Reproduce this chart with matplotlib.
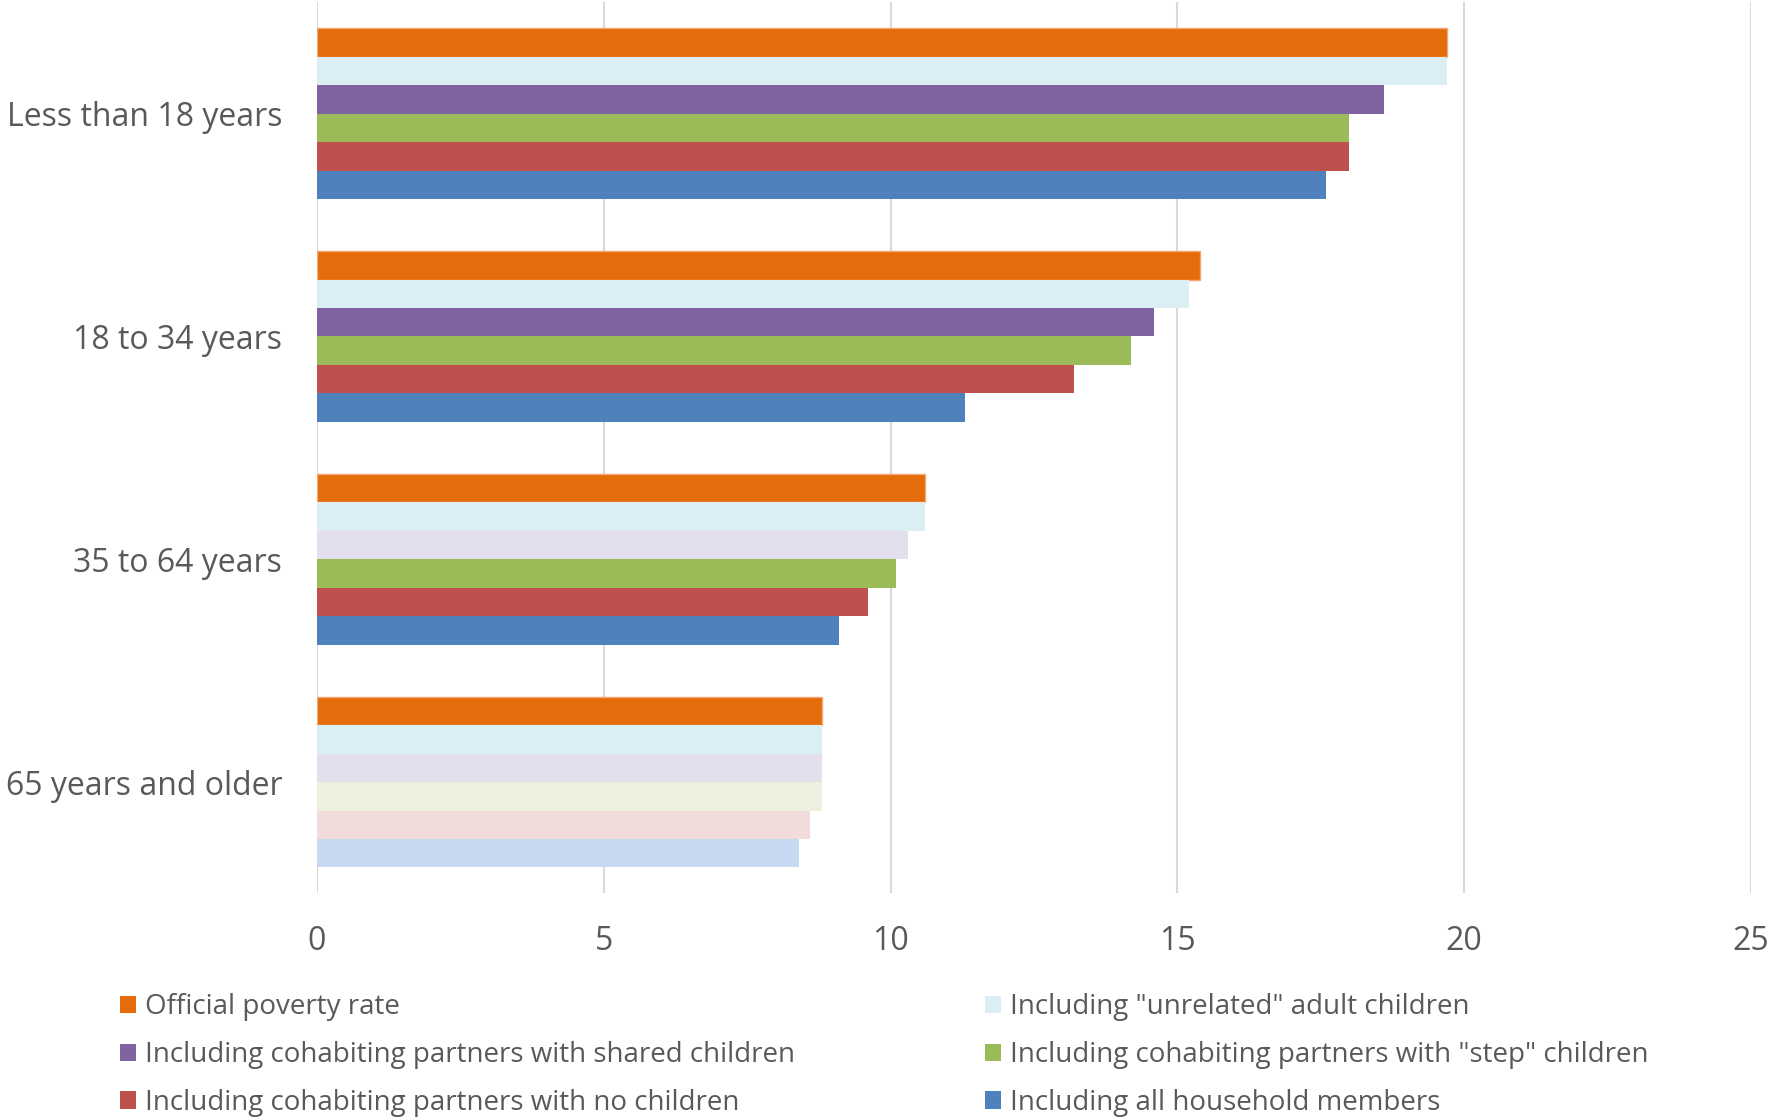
import matplotlib
matplotlib.use("Agg")
import matplotlib.pyplot as plt
import numpy as np
from matplotlib.patches import Patch

categories = ["Less than 18 years", "18 to 34 years", "35 to 64 years", "65 years and older"]
series = ["Official poverty rate",
          "Including \"unrelated\" adult children",
          "Including cohabiting partners with shared children",
          "Including cohabiting partners with \"step\" children",
          "Including cohabiting partners with no children",
          "Including all household members"]
values = [
    [19.7, 15.4, 10.6, 8.8],
    [19.7, 15.2, 10.6, 8.8],
    [18.6, 14.6, 10.3, 8.8],
    [18.0, 14.2, 10.1, 8.8],
    [18.0, 13.2, 9.6, 8.6],
    [17.6, 11.3, 9.1, 8.4],
]
# whether each bar is shown in full colour (True) or faded (False)
significant = [
    [True, True, True, True],
    [True, True, True, True],
    [True, True, False, False],
    [True, True, True, False],
    [True, True, True, False],
    [True, True, True, False],
]
colors = ["#E46C0A", "#DAEEF3", "#8064A2", "#9BBB59", "#C0504D", "#4F81BD"]
faded = ["#F9D9BF", "#DAEEF3", "#E4DFEC", "#EBF1DE", "#F2DCDB", "#C6D9F0"]
xticks = [0, 5, 10, 15, 20, 25]

plt.rcParams['font.family'] = ['Open Sans', 'DejaVu Sans']
fig = plt.figure(figsize=(17.71, 11.17), dpi=100)
ax = fig.add_axes([0.179, 0.2001, 0.8096, 0.7979])

n = len(series)
bh = 0.1277
y = np.arange(len(categories))
for i in range(n):
    offs = (i - (n - 1) / 2) * bh
    cols = [colors[i] if significant[i][j] else faded[i] for j in range(len(categories))]
    if i == 0:
        ax.barh(y + offs, values[i], height=bh, color=cols, edgecolor='#F4A774',
                linewidth=1.0, zorder=3)
    else:
        ax.barh(y + offs, values[i], height=bh, color=cols, edgecolor='none', zorder=3)

ax.set_ylim(len(categories) - 0.5, -0.5)
ax.set_xlim(0, 25)
ax.set_xticks(xticks)
ax.set_xticklabels([str(t) for t in xticks])
ax.set_yticks(y)
ax.set_yticklabels(categories)
ax.tick_params(axis='both', length=0, labelsize=23, colors='#595959')
ax.tick_params(axis='x', pad=23)
ax.tick_params(axis='y', pad=25)
ax.grid(axis='x', color='#D9D9D9', linewidth=1.5, zorder=0)
for s in ax.spines.values():
    s.set_visible(False)

handles = [Patch(facecolor=colors[i], edgecolor='none') for i in range(n)]
# arrange so rows read left-to-right
order = [0, 2, 4, 1, 3, 5]
fig.legend([handles[k] for k in order], [series[k] for k in order],
           ncol=2, loc='upper left', bbox_to_anchor=(0.0565, 0.128),
           frameon=False, fontsize=20, labelcolor='#595959', borderpad=0.2,
           handlelength=0.6, handleheight=0.6, handletextpad=0.3,
           columnspacing=6.85, labelspacing=0.71)

fig.savefig("out.png", dpi=100)
